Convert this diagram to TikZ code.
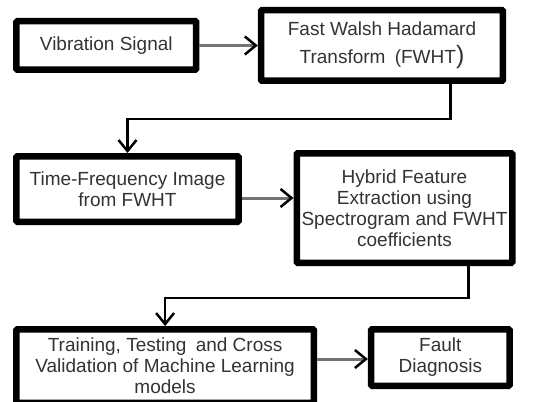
\documentclass[tikz,border=0pt]{standalone}
\usepackage{fontspec}
\setmainfont{Liberation Sans}
\usetikzlibrary{arrows.meta}
\begin{document}
\begin{tikzpicture}[x=1pt,y=-1pt,
  box/.style={draw=black, line width=6.5pt, rounded corners=1pt, inner sep=0pt, align=center,
    font=\fontsize{19}{21}\selectfont, text=black!80},
  harr/.style={draw=black!55, line width=3pt,
    -{Straight Barb[length=11pt,width=18pt,line width=2.5pt,color=black]}},
  varr/.style={draw=black, line width=2.5pt,
    -{Straight Barb[length=11pt,width=18pt,line width=2.5pt]}}]
\useasboundingbox (0,0) rectangle (556,401);
\fill[white] (0,0) rectangle (556,401);
\node[box, minimum width=179.7pt, minimum height=48.5pt] (b1) at (106.3,45.5) {Vibration Signal};
\node[box, minimum width=241.9pt, minimum height=70.5pt, font=\fontsize{19}{28}\selectfont] (b2) at (382,45.5)
  {Fast Walsh Hadamard\\Transform\hspace{4pt} (FWHT{\fontsize{25}{25}\selectfont)}};
\node[box, minimum width=222.1pt, minimum height=65.5pt] (b3) at (127.5,189) {Time-Frequency Image\\from FWHT};
\node[box, minimum width=215.5pt, minimum height=109.5pt] (b4) at (404.5,208)
  {Hybrid Feature\\Extraction using\\Spectrogram and FWHT\\coefficients};
\node[box, minimum width=297.4pt, minimum height=73.5pt] (b5) at (165.1,366)
  {Training, Testing\hspace{4pt} and Cross\\Validation of Machine Learning\\models};
\node[box, minimum width=138.4pt, minimum height=56.5pt] (b6) at (440.3,357.5) {Fault\\Diagnosis};
\coordinate (y2) at (0,198);
\coordinate (y3) at (0,359);
\coordinate (k1) at (450.6,119);
\coordinate (k2) at (468.5,298);
\draw[harr] (b1.east) -- (b2.west);
\draw[harr] (b3.east |- y2) -- (b4.west |- y2);
\draw[harr] (b5.east |- y3) -- (b6.west |- y3);
\draw[varr] (b2.south -| k1) |- (b3.north |- k1) -- (b3.north);
\draw[varr] (b4.south -| k2) |- (b5.north |- k2) -- (b5.north);
\end{tikzpicture}
\end{document}
